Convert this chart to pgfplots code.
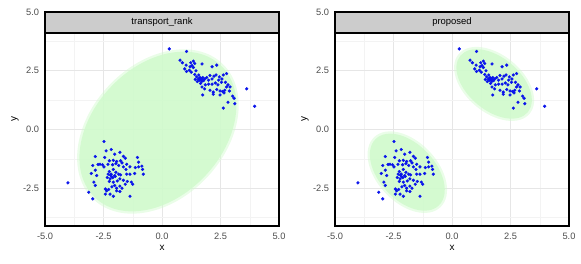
\documentclass[border=0pt]{standalone}
\usepackage{fontspec}
\setmainfont{Liberation Sans}
\usepackage{pgfplots}
\pgfplotsset{compat=1.18}
\usepackage{pgfplotstable}
\definecolor{ptblue}{RGB}{10,20,235}
\definecolor{ellgreen}{RGB}{208,250,204}
\definecolor{gridmaj}{RGB}{230,230,230}
\definecolor{gridmin}{RGB}{243,243,243}
\definecolor{stripgray}{RGB}{204,204,204}
\definecolor{ticklab}{RGB}{77,77,77}

\pgfplotstableread{
x y
0.31 3.43
1.05 3.32
0.77 2.95
0.87 2.84
1.03 2.74
1.23 2.84
1.34 2.91
1.40 2.81
1.28 2.72
1.20 2.67
1.34 2.64
1.71 2.79
0.97 2.58
1.05 2.47
1.17 2.52
1.25 2.44
1.45 2.50
2.14 2.67
2.34 2.74
1.40 2.34
1.48 2.24
1.57 2.32
1.62 2.21
1.68 2.13
1.74 2.21
1.82 2.15
1.91 2.21
1.99 2.10
2.05 2.30
2.14 2.15
2.22 2.27
2.31 2.32
2.45 2.24
2.42 2.10
2.56 2.15
2.62 2.32
2.76 2.38
1.42 2.13
1.51 2.04
1.65 1.96
1.85 1.90
1.99 1.93
2.14 1.93
2.28 1.98
2.39 1.90
2.54 2.01
2.71 2.01
2.82 1.90
2.91 1.81
2.76 1.81
1.71 1.81
1.82 1.73
2.05 1.67
2.19 1.59
2.34 1.70
2.48 1.64
2.59 1.62
2.68 1.67
2.88 1.64
3.02 1.42
1.74 1.47
2.19 1.50
2.48 1.47
2.65 1.56
2.82 1.16
3.08 1.33
3.11 1.10
2.62 0.91
3.62 1.73
3.96 0.99
1.60 2.10
1.70 2.05
1.55 2.15
1.78 2.08
1.66 2.18
-2.48 -0.51
-2.39 -0.91
-2.17 -0.85
-2.85 -1.15
-2.45 -1.19
-2.02 -1.05
-1.80 -0.97
-1.65 -1.14
-1.57 -1.22
-1.77 -1.33
-1.71 -1.42
-1.94 -1.36
-2.08 -1.31
-2.25 -1.33
-2.31 -1.48
-2.65 -1.48
-2.73 -1.49
-2.54 -1.50
-2.48 -1.59
-2.11 -1.50
-1.97 -1.45
-1.85 -1.53
-1.65 -1.59
-1.51 -1.48
-1.37 -1.59
-1.05 -1.19
-1.00 -1.39
-1.00 -1.59
-0.86 -1.56
-0.83 -1.70
-0.80 -1.90
-1.14 -1.62
-1.17 -1.87
-1.37 -1.90
-1.54 -1.70
-2.96 -1.53
-3.02 -1.87
-2.85 -1.73
-2.79 -1.96
-2.25 -1.79
-2.17 -1.90
-2.08 -1.70
-1.97 -1.82
-1.85 -1.90
-1.77 -1.93
-2.02 -1.96
-2.14 -2.02
-2.22 -2.10
-2.34 -2.04
-2.25 -2.21
-2.08 -2.24
-1.91 -2.19
-1.80 -2.10
-1.65 -2.16
-1.48 -2.21
-1.57 -2.33
-1.31 -2.24
-1.25 -2.33
-1.51 -1.90
-2.91 -2.24
-2.85 -2.38
-4.02 -2.27
-2.42 -2.53
-2.37 -2.61
-2.28 -2.55
-2.14 -2.44
-2.02 -2.38
-1.94 -2.50
-1.80 -2.41
-1.71 -2.50
-1.94 -2.61
-1.80 -2.64
-2.42 -2.75
-2.22 -2.75
-2.08 -2.84
-1.37 -2.84
-3.13 -2.67
-2.96 -2.95
-2.20 -1.95
-2.10 -2.05
-2.30 -1.90
-2.00 -2.00
}\pts

\pgfplotsset{panel/.style={
  width=234bp, height=214bp, scale only axis,
  anchor=south west,
  xmin=-5, xmax=5, ymin=-4.106, ymax=5,
  xtick={-5,-2.5,0,2.5,5}, xticklabels={-5.0,-2.5,0.0,2.5,5.0},
  ytick={-2.5,0,2.5,5}, yticklabels={-2.5,0.0,2.5,5.0},
  minor xtick={-3.75,-1.25,1.25,3.75}, minor ytick={-3.75,-1.25,1.25,3.75},
  grid=both,
  major grid style={gridmaj, line width=0.8bp},
  minor grid style={gridmin, line width=0.5bp},
  major tick length=0pt, minor tick length=0pt,
  axis line style={black, line width=1.1bp},
  tick label style={font=\fontsize{9.3}{10}\selectfont, text=ticklab},
  xticklabel style={yshift=-3.2bp},
  yticklabel style={xshift=-2.5bp},
  xlabel={x}, ylabel={y},
  every axis x label/.style={at={(rel axis cs:0.5,0)}, anchor=center, yshift=-22bp, font=\fontsize{10}{11}\selectfont},
  every axis y label/.style={at={(rel axis cs:0,0.5)}, anchor=center, xshift=-30bp, rotate=90, font=\fontsize{10}{11}\selectfont},
  clip=false,
  axis on top=false,
}}

\begin{document}
\begin{tikzpicture}
\useasboundingbox (0,0) rectangle (581bp,264bp);
\begin{axis}[panel, at={(45bp,38bp)}]
  \fill[ellgreen, fill opacity=0.45] (axis cs:-0.175,-0.085) ellipse [x radius=4.0, y radius=2.86, rotate=46.5];
  \fill[ellgreen, fill opacity=0.85] (axis cs:-0.175,-0.085) ellipse [x radius=3.9, y radius=2.76, rotate=46.5];
  \addplot[only marks, mark=*, mark size=1.4bp, ptblue, mark options={draw=ptblue, fill=ptblue}] table[x=x, y=y] {\pts};
  \draw[fill=stripgray, line width=1.1bp] (axis cs:-5,4.106) rectangle (axis cs:5,5);
  \node[font=\fontsize{9.5}{11}\selectfont] at (axis cs:0,4.553) {transport\_rank};
\end{axis}
\begin{axis}[panel, at={(335bp,38bp)}]
  \fill[ellgreen, fill opacity=0.45] (axis cs:1.80,1.94) ellipse [x radius=1.98, y radius=1.22, rotate=-40];
  \fill[ellgreen, fill opacity=0.85] (axis cs:1.80,1.94) ellipse [x radius=1.88, y radius=1.12, rotate=-40];
  \fill[ellgreen, fill opacity=0.45] (axis cs:-1.91,-1.815) ellipse [x radius=2.06, y radius=1.29, rotate=-46.7];
  \fill[ellgreen, fill opacity=0.85] (axis cs:-1.91,-1.815) ellipse [x radius=1.96, y radius=1.19, rotate=-46.7];
  \addplot[only marks, mark=*, mark size=1.4bp, ptblue, mark options={draw=ptblue, fill=ptblue}] table[x=x, y=y] {\pts};
  \draw[fill=stripgray, line width=1.1bp] (axis cs:-5,4.106) rectangle (axis cs:5,5);
  \node[font=\fontsize{9.5}{11}\selectfont] at (axis cs:0,4.553) {proposed};
\end{axis}
\end{tikzpicture}
\end{document}
